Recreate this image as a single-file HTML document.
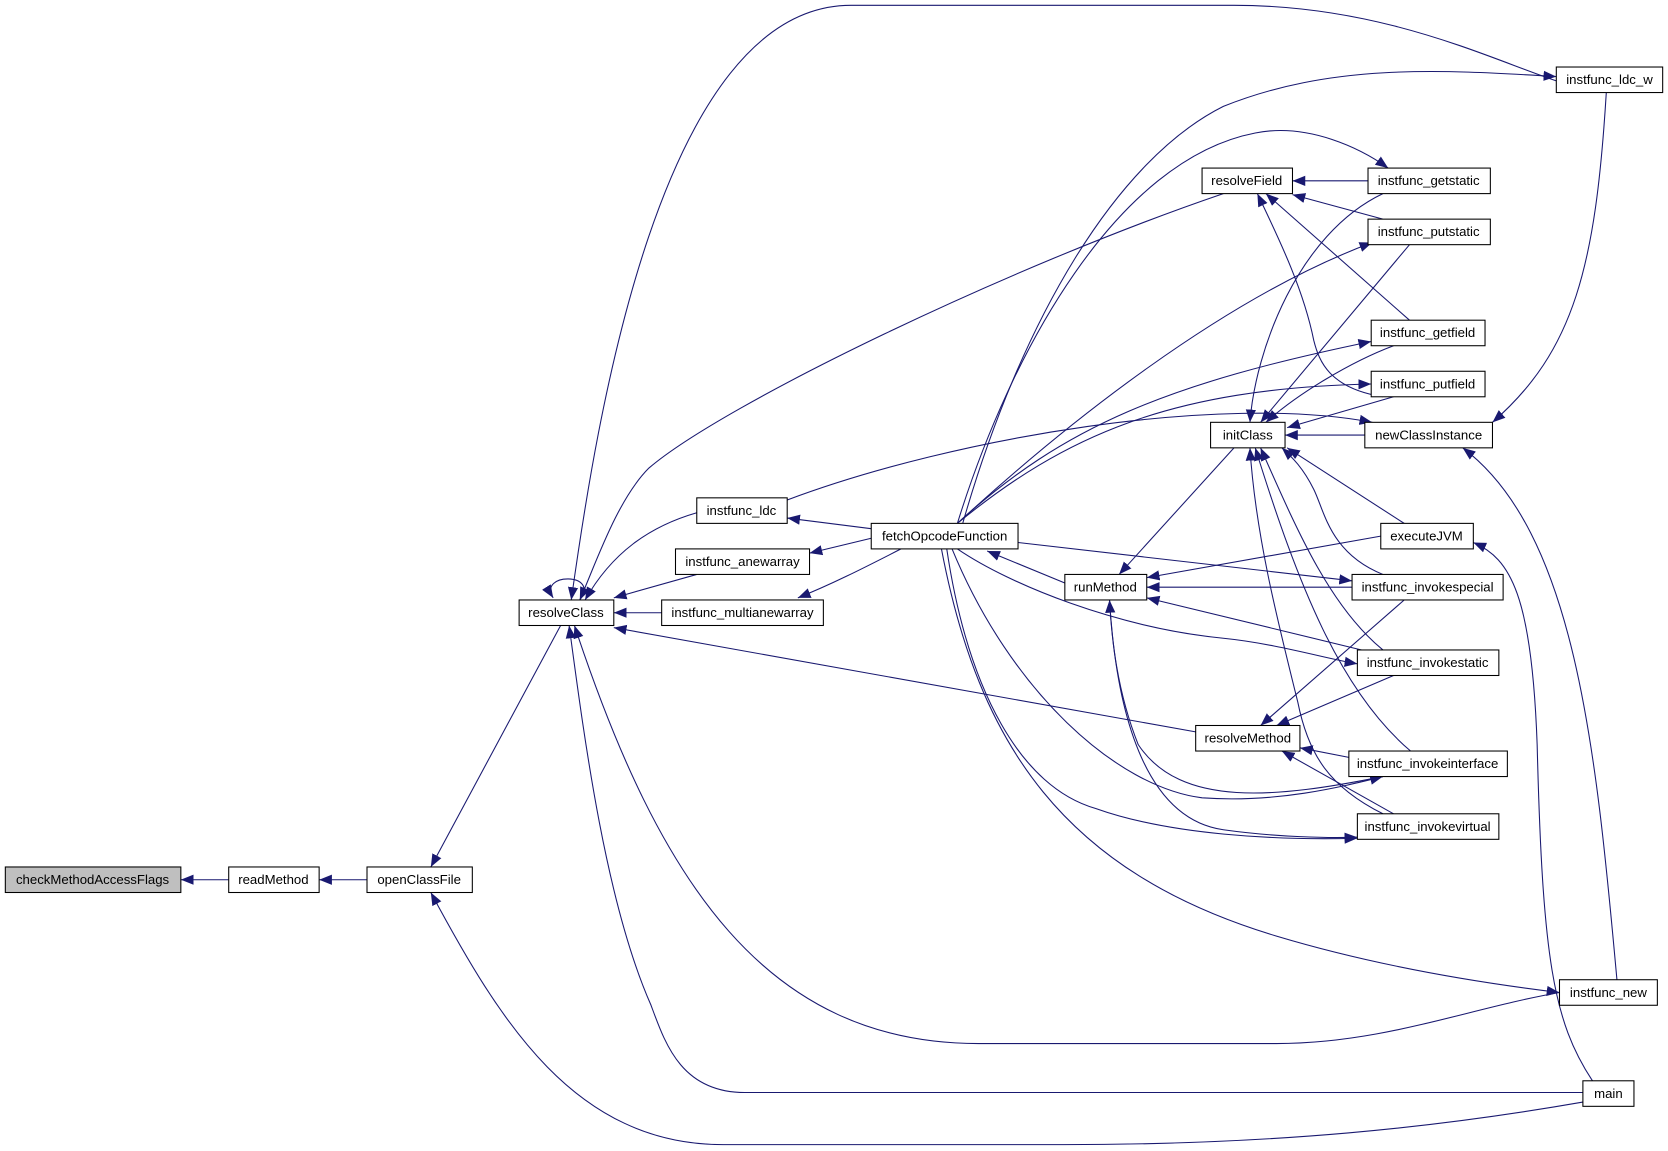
<!DOCTYPE html>
<html><head><meta charset="utf-8"><style>
html,body{margin:0;padding:0;background:#fff;}
svg{display:block;}
text{font-family:"Liberation Sans",sans-serif;font-size:12.4px;fill:#000;text-anchor:middle;}
.n{fill:#fff;stroke:#000;stroke-width:1;}
.e{fill:none;stroke:#191970;stroke-width:1;}
</style></head><body>
<svg width="1668" height="1151" viewBox="0 0 1568 1082" xmlns="http://www.w3.org/2000/svg">
<defs><marker id="a" viewBox="0 0 10 10" refX="10" refY="5" markerWidth="12" markerHeight="12" markerUnits="userSpaceOnUse" orient="auto"><path d="M0,1 L10,5 L0,9 z" fill="#191970"/></marker></defs>
<g class="e" marker-end="url(#a)">
<path d="M215,827 L170,827"/>
<path d="M345,827 L300,827"/>
<path d="M527,588 L405,815"/>
<path d="M1488,1036 C1350,1060 1200,1076 1000,1076 L680,1076 C540,1076 470,960 405,839"/>
<path d="M545,564 C565,538 505,538 520,562"/>
<path d="M655,482 C610,495 575,520 550,564"/>
<path d="M655,540 L577,562"/>
<path d="M622,576 L577,576"/>
<path d="M1150,182 C950,250 680,380 610,440 C580,470 560,530 545,564"/>
<path d="M1463,76 C1400,55 1300,5 1160,5 L800,5 C620,5 560,400 537,564"/>
<path d="M1124,688 L577,590"/>
<path d="M1466,933 C1380,948 1300,981 1200,981 L920,981 C720,981 620,830 540,588"/>
<path d="M1488,1027 L700,1027 C640,1027 625,980 612,945 C570,850 550,700 535,588"/>
<path d="M819,497 L740,487"/>
<path d="M819,506 L761,520"/>
<path d="M847,516 C810,535 780,550 750,562"/>
<path d="M1001,548 L928,518"/>
<path d="M905,492 C960,300 1050,150 1150,100 C1250,60 1350,65 1463,72"/>
<path d="M900,492 C950,330 1050,150 1180,125 C1230,115 1280,140 1305,158"/>
<path d="M900,492 C1000,400 1150,280 1290,228"/>
<path d="M900,492 C1000,400 1100,360 1289,321"/>
<path d="M900,492 C1000,410 1100,365 1289,361"/>
<path d="M957,510 L1271,546"/>
<path d="M900,516 C950,550 1050,590 1150,600 C1200,605 1250,620 1276,624"/>
<path d="M895,516 C950,650 1050,740 1130,750 C1200,755 1260,740 1300,730"/>
<path d="M890,516 C910,650 960,740 1030,760 C1100,785 1200,790 1276,788"/>
<path d="M885,516 C920,700 1000,820 1200,880 C1300,910 1400,925 1466,933"/>
<path d="M740,470 C900,410 1150,370 1290,397"/>
<path d="M1286,170 L1215,170"/>
<path d="M1300,206 L1215,183"/>
<path d="M1325,301 L1190,182"/>
<path d="M1300,373 C1250,365 1240,340 1235,320 C1225,270 1200,220 1182,182"/>
<path d="M1300,182 C1220,220 1180,330 1175,397"/>
<path d="M1325,230 L1185,397"/>
<path d="M1310,325 C1270,340 1220,370 1190,397"/>
<path d="M1310,373 L1210,402"/>
<path d="M1283,409 L1208,409"/>
<path d="M1320,492 L1210,421"/>
<path d="M1300,540 C1250,520 1245,480 1235,460 C1225,440 1215,430 1205,421"/>
<path d="M1300,611 C1250,570 1220,500 1185,421"/>
<path d="M1326,706 C1260,650 1220,550 1180,421"/>
<path d="M1300,765 C1250,740 1230,710 1220,660 C1200,580 1180,500 1175,421"/>
<path d="M1160,421 L1052,540"/>
<path d="M1298,504 L1078,543"/>
<path d="M1271,552 L1078,552"/>
<path d="M1280,611 L1078,562"/>
<path d="M1300,730 C1200,750 1110,760 1070,700 C1050,650 1045,600 1043,564"/>
<path d="M1043,564 C1050,680 1080,770 1150,780 C1200,787 1250,788 1276,787"/>
<path d="M1320,564 L1185,682"/>
<path d="M1310,635 L1200,682"/>
<path d="M1268,712 L1222,703"/>
<path d="M1310,765 L1205,706"/>
<path d="M1510,87 C1500,250 1480,330 1403,397"/>
<path d="M1520,921 C1500,700 1480,500 1375,421"/>
<path d="M1497,1016 C1460,960 1450,900 1445,700 C1440,560 1420,525 1385,510"/>
</g>
<g>
<rect x="5" y="815" width="165" height="24" style="fill:#bfbfbf;stroke:#000"/><text x="87" y="831">checkMethodAccessFlags</text>
<rect class="n" x="215" y="815" width="85" height="24"/><text x="257" y="831">readMethod</text>
<rect class="n" x="345" y="815" width="99" height="24"/><text x="394" y="831">openClassFile</text>
<rect class="n" x="488" y="564" width="89" height="24"/><text x="532" y="580">resolveClass</text>
<rect class="n" x="655" y="468" width="85" height="24"/><text x="697" y="484">instfunc_ldc</text>
<rect class="n" x="635" y="516" width="126" height="24"/><text x="698" y="532">instfunc_anewarray</text>
<rect class="n" x="622" y="564" width="152" height="24"/><text x="698" y="580">instfunc_multianewarray</text>
<rect class="n" x="819" y="492" width="138" height="24"/><text x="888" y="508">fetchOpcodeFunction</text>
<rect class="n" x="1001" y="540" width="77" height="24"/><text x="1039" y="556">runMethod</text>
<rect class="n" x="1130" y="158" width="85" height="24"/><text x="1172" y="174">resolveField</text>
<rect class="n" x="1138" y="397" width="70" height="24"/><text x="1173" y="413">initClass</text>
<rect class="n" x="1124" y="682" width="98" height="24"/><text x="1173" y="698">resolveMethod</text>
<rect class="n" x="1463" y="63" width="100" height="24"/><text x="1513" y="79">instfunc_ldc_w</text>
<rect class="n" x="1286" y="158" width="115" height="24"/><text x="1343" y="174">instfunc_getstatic</text>
<rect class="n" x="1286" y="206" width="115" height="24"/><text x="1343" y="222">instfunc_putstatic</text>
<rect class="n" x="1289" y="301" width="107" height="24"/><text x="1342" y="317">instfunc_getfield</text>
<rect class="n" x="1289" y="349" width="107" height="24"/><text x="1342" y="365">instfunc_putfield</text>
<rect class="n" x="1283" y="397" width="120" height="24"/><text x="1343" y="413">newClassInstance</text>
<rect class="n" x="1298" y="492" width="87" height="24"/><text x="1341" y="508">executeJVM</text>
<rect class="n" x="1271" y="540" width="142" height="24"/><text x="1342" y="556">instfunc_invokespecial</text>
<rect class="n" x="1276" y="611" width="133" height="24"/><text x="1342" y="627">instfunc_invokestatic</text>
<rect class="n" x="1268" y="706" width="149" height="24"/><text x="1342" y="722">instfunc_invokeinterface</text>
<rect class="n" x="1276" y="765" width="133" height="24"/><text x="1342" y="781">instfunc_invokevirtual</text>
<rect class="n" x="1466" y="921" width="92" height="24"/><text x="1512" y="937">instfunc_new</text>
<rect class="n" x="1488" y="1016" width="48" height="24"/><text x="1512" y="1032">main</text>
</g>
</svg>
</body></html>
